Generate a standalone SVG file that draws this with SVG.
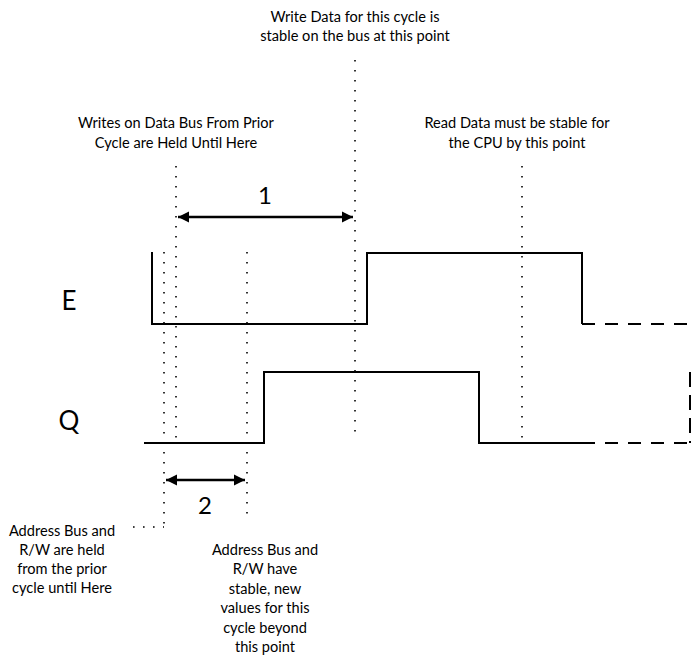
<svg xmlns="http://www.w3.org/2000/svg" width="692" height="666" viewBox="0 0 692 666">
<style>
.t{font-family:Lato,"Liberation Sans",sans-serif;font-size:14.6px;fill:#000;text-anchor:middle}
.big{font-family:Lato,"Liberation Sans",sans-serif;font-size:26px;fill:#000;text-anchor:middle}
.sig{fill:none;stroke:#000;stroke-width:2}
.dash{fill:none;stroke:#000;stroke-width:2;stroke-dasharray:13 10}
.dot{fill:none;stroke:#000;stroke-width:1.6;stroke-dasharray:1.6 8.4}
.arr{fill:none;stroke:#000;stroke-width:2.5}
</style>
<defs>
<marker id="ah" viewBox="0 0 10 10" refX="10" refY="5" markerWidth="4.4" markerHeight="5" markerUnits="strokeWidth" orient="auto-start-reverse">
<path d="M0,0 L10,5 L0,10 Z" fill="#000"/>
</marker>
</defs>
<rect width="692" height="666" fill="#fff"/>
<g id="guides">
<path class="dot" d="M164,252 V527"/>
<path class="dot" d="M133,527 H164"/>
<path class="dot" d="M176,166 V440"/>
<path class="dot" d="M247,252 V522"/>
<path class="dot" d="M355,60 V440"/>
<path class="dot" d="M522,166 V440"/>
</g>
<g id="signal-E">
<path class="sig" d="M152,252 V324 H367 V253 H582 V324"/>
<path class="dash" d="M582,324 H692"/>
<text class="big" x="69" y="310">E</text>
</g>
<g id="signal-Q">
<path class="sig" d="M144,443 H264 V372 H479 V443 H582"/>
<path class="dash" d="M582,443 H692"/>
<path class="dash" d="M690,372 V443" style="stroke-dasharray:15 8"/>
<text class="big" x="69" y="430">Q</text>
</g>
<g id="connectors">
<path class="arr" d="M178,217 H353" marker-start="url(#ah)" marker-end="url(#ah)"/>
<path class="arr" d="M166,480 H245" marker-start="url(#ah)" marker-end="url(#ah)"/>
</g>
<g id="label-1"><text class="big" x="265" y="204" style="font-size:24px">1</text></g>
<g id="label-2"><text class="big" x="205" y="514" style="font-size:24px">2</text></g>
<g id="note-write-data">
<text class="t" x="355" y="22">Write Data for this cycle is</text>
<text class="t" x="355" y="41">stable on the bus at this point</text>
</g>
<g id="note-writes-held">
<text class="t" x="176" y="128">Writes on Data Bus From Prior</text>
<text class="t" x="176" y="148">Cycle are Held Until Here</text>
</g>
<g id="note-read-data">
<text class="t" x="517" y="128">Read Data must be stable for</text>
<text class="t" x="517" y="148">the CPU by this point</text>
</g>
<g id="note-address-held">
<text class="t" x="62" y="536">Address Bus and</text>
<text class="t" x="62" y="555">R/W are held</text>
<text class="t" x="62" y="574">from the prior</text>
<text class="t" x="62" y="593">cycle until Here</text>
</g>
<g id="note-address-stable">
<text class="t" x="265" y="555">Address Bus and</text>
<text class="t" x="265" y="574">R/W have</text>
<text class="t" x="265" y="594">stable, new</text>
<text class="t" x="265" y="613">values for this</text>
<text class="t" x="265" y="633">cycle beyond</text>
<text class="t" x="265" y="652">this point</text>
</g>
</svg>
